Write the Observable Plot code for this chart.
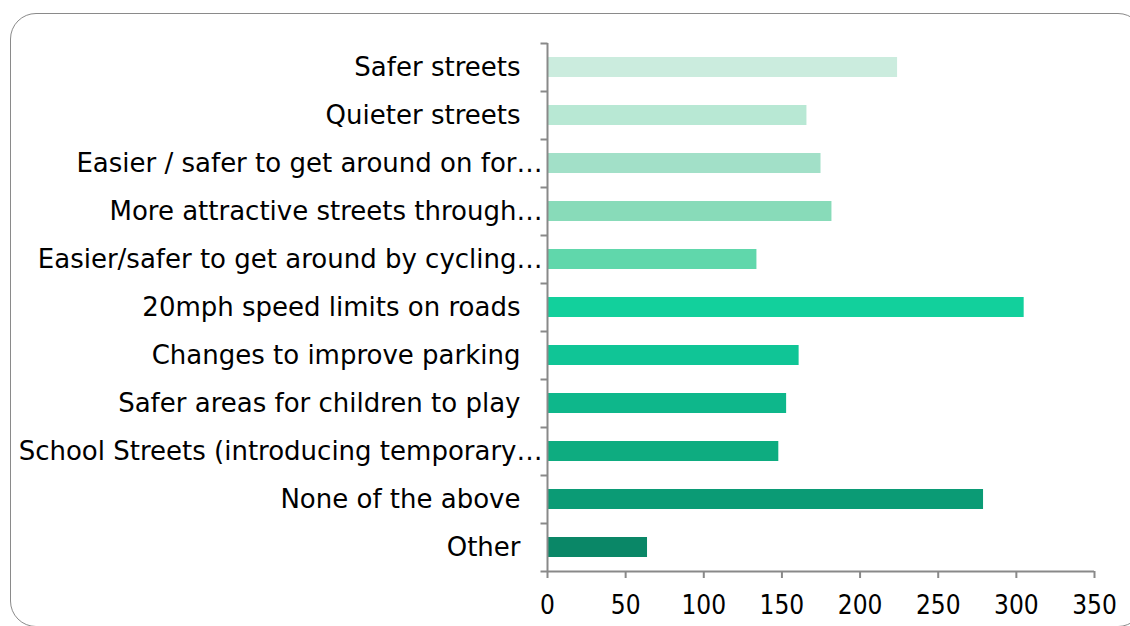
<!DOCTYPE html>
<html>
<head>
<meta charset="utf-8">
<script src="https://cdn.jsdelivr.net/npm/d3@7"></script>
<script src="https://cdn.jsdelivr.net/npm/@observablehq/plot@0.6"></script>
<style>
  html, body { margin: 0; padding: 0; background: #fff; }
  #wrap { position: relative; width: 1130px; height: 626px; overflow: hidden; }
  #box { position: absolute; left: 10px; top: 13px; width: 1134px; height: 614px;
         border: 1.5px solid #8a8a8a; border-radius: 26px; box-sizing: border-box; }
  #chart { position: absolute; left: 0; top: 0; }
  #chart g[aria-label="x-axis tick label"] { font-stretch: condensed; }
</style>
</head>
<body>
<div id="wrap"><div id="box"></div><div id="chart"></div></div>
<script>
const categories = [
  "Safer streets",
  "Quieter streets",
  "Easier / safer to get around on for…",
  "More attractive streets through…",
  "Easier/safer to get around by cycling…",
  "20mph speed limits on roads",
  "Changes to improve parking",
  "Safer areas for children to play",
  "School Streets (introducing temporary…",
  "None of the above",
  "Other"
];
const values = [224, 166, 175, 182, 134, 305, 161, 153, 148, 279, 64];
const colors = ["#cbecde", "#b8e8d4", "#a2e0c8", "#88dbb9", "#60d7ab", "#12d09c",
                "#10c596", "#0eb78b", "#0eac80", "#0b9b75", "#0a8767"];
const xTicks = [0, 50, 100, 150, 200, 250, 300, 350];

const data = categories.map((c, i) => ({category: c, value: values[i], color: colors[i]}));
const truncated = data.filter(d => d.category.endsWith("…"));
const full = data.filter(d => !d.category.endsWith("…"));

const axisGray = "#898989";
const leftTick = { draw(context) { context.moveTo(-7, 0); context.lineTo(0, 0); } };

const chart = Plot.plot({
  width: 1130,
  height: 626,
  marginLeft: 547,
  marginRight: 36,
  marginTop: 43,
  marginBottom: 55,
  style: {fontFamily: "'DejaVu Sans', sans-serif", fontSize: "26px", color: "#000", background: "transparent"},
  x: {domain: [0, 350], ticks: xTicks, label: null},
  y: {domain: categories, padding: 0, label: null, axis: null},
  color: {type: "identity"},
  marks: [
    Plot.barX(data, {y: "category", x: "value", fill: "color", insetTop: 14, insetBottom: 14}),
    Plot.ruleX([0], {stroke: axisGray, strokeWidth: 2}),
    Plot.ruleY([categories[categories.length - 1]], {dy: 24, stroke: axisGray, strokeWidth: 2}),
    Plot.dot(categories, {x: () => 0, y: d => d, dy: -24, symbol: leftTick, fill: "none", stroke: axisGray, strokeWidth: 2}),
    Plot.dot([categories[categories.length - 1]], {x: () => 0, y: d => d, dy: 24, symbol: leftTick, fill: "none", stroke: axisGray, strokeWidth: 2}),
    Plot.text(full, {x: () => 0, y: "category", text: "category", textAnchor: "end", dx: -27, fill: "#000", fontSize: 26}),
    Plot.text(truncated, {x: () => 0, y: "category", text: "category", textAnchor: "end", dx: -5, fill: "#000", fontSize: 26}),
    Plot.axisX({ticks: xTicks, tickSize: 7, stroke: axisGray, strokeWidth: 2, fill: "none", label: null}),
    Plot.axisX({ticks: xTicks, tickSize: 0, tickPadding: 24, fill: "#000", fontSize: 26, label: null})
  ]
});
document.getElementById("chart").appendChild(chart);
</script>
</body>
</html>
